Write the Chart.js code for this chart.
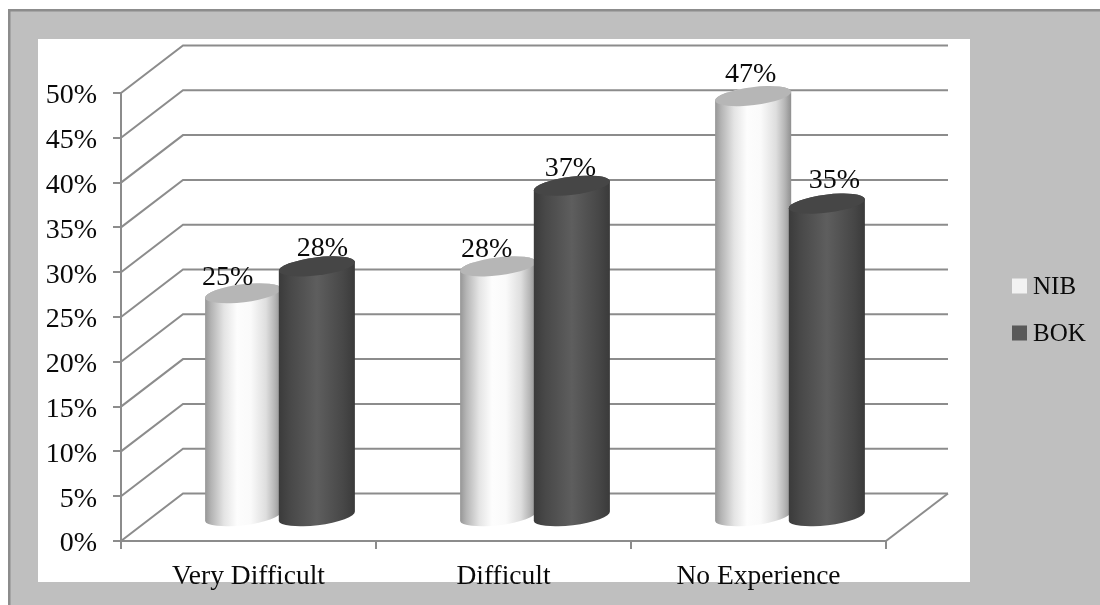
<!DOCTYPE html>
<html>
<head>
<meta charset="utf-8">
<title>Difficulty by bank</title>
<style>
  html, body { margin: 0; padding: 0; background: #fff; }
  canvas { display: block; }
</style>
<script src="https://cdn.jsdelivr.net/npm/chart.js@4"></script>
</head>
<body>
<canvas id="chart" width="1100" height="605"></canvas>
<script>
const categories = ['Very Difficult', 'Difficult', 'No Experience'];
const nibValues = [25, 28, 47];
const bokValues = [28, 37, 35];
const yMin = 0;
const yMax = 50;
const yStep = 5;

const FONT = '"Liberation Serif", serif';
const TEXT = '#0a0a0a';
const LINE = '#8c8c8c';
const DEPTH_X = 62;      // back wall offset from the front axes
const DEPTH_Y = -47.5;

// Horizontal body shading and cap colour for each series swatch colour
const shading = {
  '#F2F2F2': {
    cap: '#b6b6b6',
    stops: [[0, '#969696'], [0.08, '#b4b4b4'], [0.25, '#e4e4e4'], [0.42, '#fdfdfd'],
            [0.6, '#fafafa'], [0.8, '#dedede'], [0.92, '#b4b4b4'], [1, '#8f8f8f']]
  },
  '#595959': {
    cap: '#464646',
    stops: [[0, '#3b3b3b'], [0.15, '#484848'], [0.5, '#5e5e5e'], [0.85, '#474747'], [1, '#3a3a3a']]
  }
};

const CAP_TILT = -7 * Math.PI / 180;
const CAP_MINOR = 9;
const BAR_SCALE = 1.04;

// Bars rendered as tilted cylinders standing midway through the floor depth
class CylinderElement extends Chart.BarElement {
  static id = 'cylinder';
  draw(ctx) {
    const { x, y, base, width } = this.getProps(['x', 'y', 'base', 'width'], true);
    const look = shading[this.options.backgroundColor];
    const cx = x + DEPTH_X / 2 + 0.5;
    const top = y + DEPTH_Y / 2;
    const bottom = base + DEPTH_Y / 2;
    const a = width * BAR_SCALE / 2;
    const halfRun = a * Math.cos(CAP_TILT);

    const grad = ctx.createLinearGradient(cx - halfRun, 0, cx + halfRun, 0);
    look.stops.forEach(([p, c]) => grad.addColorStop(p, c));

    ctx.save();
    ctx.fillStyle = grad;
    ctx.beginPath();
    ctx.ellipse(cx, bottom, a, CAP_MINOR, CAP_TILT, Math.PI, 0, true);
    ctx.ellipse(cx, top, a, CAP_MINOR, CAP_TILT, 0, Math.PI, true);
    ctx.closePath();
    ctx.fill();

    ctx.fillStyle = look.cap;
    ctx.beginPath();
    ctx.ellipse(cx, top, a, CAP_MINOR, CAP_TILT, 0, Math.PI * 2);
    ctx.fill();
    ctx.restore();
  }
}

class CylinderController extends Chart.BarController {
  static id = 'cylinder';
  static defaults = { dataElementType: 'cylinder' };
  static overrides = Chart.BarController.overrides;
}

Chart.register(CylinderElement, CylinderController);

// Value labels sit by hand around the caps: [dx, dy] from each cap centre
const labelNudges = [
  [[-15, -16], [-11, -17], [-2, -21]],
  [[6, -18], [-1, -17], [8, -23]]
];

const framePlugin = {
  id: 'frame',
  beforeDraw(chart) {
    const { ctx, width, height } = chart;
    ctx.save();
    ctx.fillStyle = '#bfbfbf';
    ctx.fillRect(8, 9, width - 8, height - 9);
    ctx.fillStyle = LINE;
    ctx.fillRect(8, 9, width - 8, 2.5);
    ctx.fillRect(8, 9, 2.5, height - 9);
    ctx.fillStyle = '#ffffff';
    ctx.fillRect(38, 39, 932, 543);
    ctx.restore();
  }
};

const wallsPlugin = {
  id: 'walls',
  beforeDatasetsDraw(chart) {
    const { ctx, chartArea: area, scales: { y } } = chart;
    ctx.save();
    ctx.strokeStyle = LINE;
    ctx.lineWidth = 2;
    // side wall rungs and back wall grid, one per value tick
    y.ticks.forEach(t => {
      const py = y.getPixelForValue(t.value);
      ctx.beginPath();
      ctx.moveTo(area.left, py);
      ctx.lineTo(area.left + DEPTH_X, py + DEPTH_Y);
      ctx.lineTo(area.right + DEPTH_X, py + DEPTH_Y);
      ctx.stroke();
    });
    // right edge of the floor
    ctx.beginPath();
    ctx.moveTo(area.right, area.bottom);
    ctx.lineTo(area.right + DEPTH_X, area.bottom + DEPTH_Y);
    ctx.stroke();

    // series painted first to last so later cylinders overlap earlier ones
    const metas = chart.getSortedVisibleDatasetMetas();
    metas.forEach(meta => meta.controller.draw());

    // value labels on top of everything
    ctx.fillStyle = TEXT;
    ctx.font = '28px ' + FONT;
    ctx.textAlign = 'center';
    ctx.textBaseline = 'middle';
    metas.forEach(meta => {
      const values = chart.data.datasets[meta.index].data;
      meta.data.forEach((bar, i) => {
        const [dx, dy] = labelNudges[meta.index][i];
        const { x, y: top } = bar.getProps(['x', 'y'], true);
        ctx.fillText(values[i] + '%', x + DEPTH_X / 2 + dx, top + DEPTH_Y / 2 + dy);
      });
    });
    ctx.restore();
    return false;
  }
};

const legendPlugin = {
  id: 'sideLegend',
  afterDraw(chart) {
    const { ctx } = chart;
    ctx.save();
    ctx.font = '25px ' + FONT;
    ctx.textAlign = 'left';
    ctx.textBaseline = 'middle';
    chart.data.datasets.forEach((ds, i) => {
      const top = 278.5 + i * 47;
      ctx.fillStyle = ds.backgroundColor;
      ctx.fillRect(1012, top, 15, 15);
      ctx.fillStyle = TEXT;
      ctx.fillText(ds.label, 1033, top + 9);
    });
    ctx.restore();
  }
};

new Chart(document.getElementById('chart'), {
  type: 'cylinder',
  data: {
    labels: categories,
    datasets: [
      { label: 'NIB', data: nibValues, backgroundColor: '#F2F2F2' },
      { label: 'BOK', data: bokValues, backgroundColor: '#595959' }
    ]
  },
  options: {
    responsive: false,
    animation: false,
    devicePixelRatio: 1,
    categoryPercentage: 0.578,
    barPercentage: 1,
    layout: { padding: { top: 93, right: 214, bottom: 0, left: 0 } },
    plugins: {
      legend: { display: false },
      tooltip: { enabled: false }
    },
    scales: {
      x: {
        grid: { drawOnChartArea: false, color: LINE, lineWidth: 2, tickLength: 8 },
        border: { color: LINE, width: 2 },
        ticks: {
          color: TEXT, font: { family: FONT, size: 27.5 }, padding: 11,
          autoSkip: false, maxRotation: 0
        },
        afterFit(scale) { scale.height = 64; }
      },
      y: {
        min: yMin,
        max: yMax,
        grid: { drawOnChartArea: false, color: LINE, lineWidth: 2, tickLength: 8 },
        border: { color: LINE, width: 2 },
        ticks: {
          stepSize: yStep, color: TEXT, font: { family: FONT, size: 28 }, padding: 16,
          labelOffset: 3,
          callback: v => v + '%'
        },
        afterFit(scale) { scale.width = 121; }
      }
    }
  },
  plugins: [framePlugin, wallsPlugin, legendPlugin]
});
</script>
</body>
</html>
